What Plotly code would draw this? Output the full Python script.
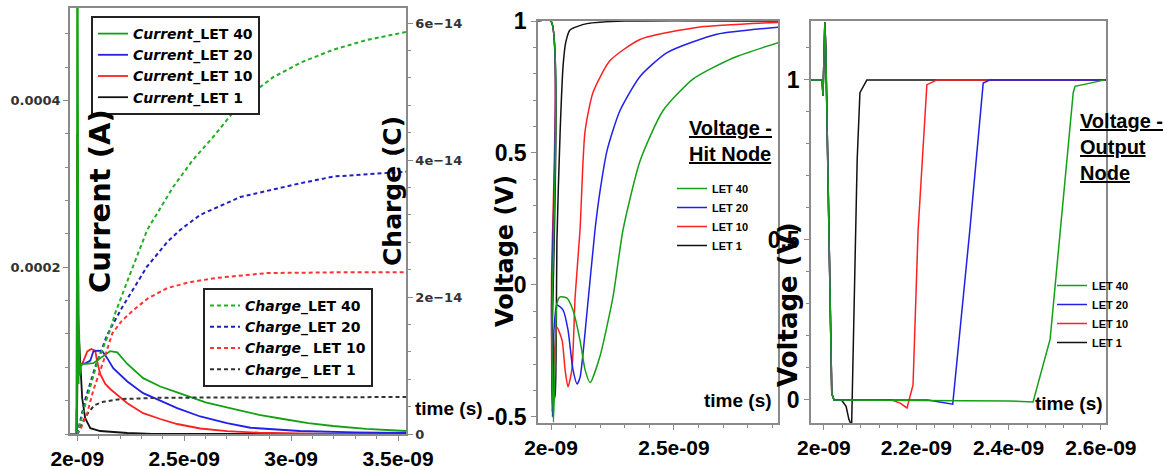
import numpy as np
import plotly.graph_objects as go

W, H = 1165, 470

# ---------------- Panel 1 data: time in ns, current in A, charge in 1e-14 C ----------------
cur_t_let1 = [1.966, 1.998, 2.0, 2.003, 2.007, 2.014, 2.023, 2.037, 2.061, 2.107, 2.234, 2.35, 3.54]
cur_let1 = [0, 0, 5e-5, 1.5e-4, 1.2e-4, 8.4e-5, 4.3e-5, 1.9e-5, 7e-6, 3.6e-6, 1.2e-6, 0, 0]

cur_t_let10 = [1.966, 1.997, 1.999, 2.001, 2.004, 2.008, 2.02, 2.047, 2.065, 2.084, 2.093, 2.107,
               2.131, 2.154, 2.234, 2.308, 2.388, 2.467, 2.575, 2.7, 2.85, 3.1, 3.54]
cur_let10 = [0, 0, 3.6e-4, 3.0e-4, 1.2e-4, 8.0e-5, 8.2e-5, 9.9e-5, 1.02e-4, 1.0e-4, 8.7e-5, 7.2e-5,
             6.0e-5, 5.4e-5, 3.7e-5, 2.5e-5, 1.8e-5, 1.2e-5, 6.6e-6, 3.5e-6, 1.5e-6, 5e-7, 0]

cur_t_let20 = [1.966, 1.997, 1.999, 2.001, 2.004, 2.008, 2.014, 2.04, 2.061, 2.075, 2.095, 2.117,
               2.14, 2.168, 2.234, 2.308, 2.388, 2.467, 2.575, 2.7, 2.81, 3.04, 3.3, 3.54]
cur_let20 = [0, 0, 2.8e-4, 2.5e-4, 1.1e-4, 8.0e-5, 8.4e-5, 8.5e-5, 8.8e-5, 9.9e-5, 1.0e-4, 9.94e-5,
             9.1e-5, 7.9e-5, 6.3e-5, 4.9e-5, 4.0e-5, 3.1e-5, 2.1e-5, 1.3e-5, 7.5e-6, 3.6e-6, 2e-6, 1.2e-6]

cur_t_let40 = [1.966, 1.994, 1.996, 1.998, 2.0, 2.003, 2.006, 2.009, 2.012, 2.016, 2.04, 2.075,
               2.107, 2.154, 2.187, 2.234, 2.308, 2.388, 2.467, 2.6, 2.729, 2.85, 2.963, 3.08,
               3.196, 3.35, 3.537]
cur_let40 = [0, 0, 3e-5, 0, 8e-4, 5e-4, 6e-5, 1.2e-4, 7e-5, 8.4e-5, 8.4e-5, 8.5e-5,
             9.1e-5, 9.94e-5, 9.8e-5, 8.4e-5, 6.7e-5, 5.7e-5, 5.0e-5, 3.8e-5, 3.0e-5, 2.3e-5, 1.8e-5, 1.3e-5,
             9.6e-6, 6.2e-6, 3.6e-6]

chg_t_let1 = [1.966, 2.0, 2.02, 2.051, 2.08, 2.121, 2.2, 2.4, 3.537]
chg_let1 = [0, 0, 0.15, 0.31, 0.42, 0.47, 0.51, 0.53, 0.54]

chg_t_let10 = [1.966, 2.0, 2.014, 2.047, 2.075, 2.12, 2.164, 2.21, 2.263, 2.33, 2.42, 2.53, 2.654,
               2.888, 3.2, 3.537]
chg_let10 = [0, 0, 0.06, 0.31, 0.64, 1.04, 1.47, 1.66, 1.81, 1.98, 2.13, 2.22, 2.28, 2.35, 2.36, 2.36]

chg_t_let20 = [1.966, 2.0, 2.037, 2.084, 2.14, 2.21, 2.325, 2.42, 2.481, 2.575, 2.762, 3.042, 3.2, 3.537]
chg_let20 = [0, 0, 0.5, 0.98, 1.45, 1.85, 2.44, 2.8, 2.98, 3.2, 3.46, 3.66, 3.76, 3.83]

chg_t_let40 = [1.966, 2.0, 2.047, 2.093, 2.154, 2.178, 2.24, 2.327, 2.449, 2.54, 2.636, 2.776, 2.916,
               3.05, 3.196, 3.35, 3.537]
chg_let40 = [0, 0, 0.54, 1.04, 1.52, 1.77, 2.28, 2.98, 3.61, 4.0, 4.34, 4.88, 5.21, 5.43, 5.61, 5.75, 5.87]

# ---------------- Panel 2 data: hit node voltage (V), time in ns ----------------
hit_t_let1 = [1.947, 1.9995, 2.003, 2.008, 2.016, 2.021, 2.024, 2.037, 2.049, 2.06, 2.077, 2.146, 2.3, 2.93]
hit_let1 = [1, 1, -0.3, -0.44, -0.42, -0.2, 0.17, 0.58, 0.83, 0.92, 0.966, 0.99, 1.0, 1.0]

hit_t_let10 = [1.947, 1.9995, 2.002, 2.004, 2.016, 2.024, 2.045, 2.057, 2.069, 2.085, 2.098, 2.118,
               2.138, 2.171, 2.24, 2.362, 2.606, 2.93]
hit_let10 = [1, 1, 0.0, -0.48, -0.23, -0.16, -0.21, -0.32, -0.386, -0.32, -0.045, 0.21,
             0.58, 0.73, 0.85, 0.93, 0.977, 0.995]

hit_t_let20 = [1.947, 1.9995, 2.002, 2.006, 2.012, 2.024, 2.049, 2.069, 2.089, 2.106, 2.118, 2.146,
               2.179, 2.2, 2.228, 2.28, 2.362, 2.472, 2.675, 2.93]
hit_let20 = [1, 1, -0.1, -0.5, -0.17, -0.076, -0.095, -0.17, -0.32, -0.375, -0.35, -0.106,
             0.21, 0.36, 0.51, 0.66, 0.79, 0.88, 0.95, 0.977]

hit_t_let40 = [1.947, 1.9995, 2.003, 2.01, 2.018, 2.024, 2.037, 2.065, 2.089, 2.118, 2.138, 2.159,
               2.199, 2.252, 2.293, 2.362, 2.455, 2.577, 2.74, 2.93]
hit_let40 = [1, 1, -0.2, -0.52, -0.25, -0.07, -0.045, -0.05, -0.095, -0.21, -0.32, -0.37,
             -0.27, -0.045, 0.21, 0.47, 0.66, 0.78, 0.86, 0.92]

# ---------------- Panel 3 data: output node voltage (V), time in ns ----------------
out_t_let1 = [1.972, 1.996, 1.998, 2.0, 2.002, 2.004, 2.0065, 2.012, 2.017, 2.022, 2.038, 2.048,
              2.054, 2.06, 2.069, 2.072, 2.078, 2.093, 2.611]
out_let1 = [1, 1, 0.95, 1.1, 1.18, 1.1, 0.9, 0.4, 0.02, 0, 0, -0.02, -0.06, -0.08, 0.5, 0.75, 0.96, 1.0, 1.0]

out_t_let10 = [1.972, 1.996, 1.998, 2.0, 2.002, 2.004, 2.0065, 2.012, 2.017, 2.022, 2.147, 2.165,
               2.18, 2.193, 2.204, 2.223, 2.245, 2.611]
out_let10 = [1, 1, 0.95, 1.1, 1.18, 1.1, 0.9, 0.4, 0.02, 0, 0, -0.01, -0.025, 0.047, 0.53, 0.985, 1.0, 1.0]

out_t_let20 = [1.972, 1.996, 1.998, 2.0, 2.002, 2.004, 2.0065, 2.012, 2.017, 2.022, 2.225, 2.279,
               2.316, 2.345, 2.36, 2.611]
out_let20 = [1, 1, 0.95, 1.1, 1.18, 1.1, 0.9, 0.4, 0.02, 0, 0, -0.013, 0.53, 0.99, 1.0, 1.0]

out_t_let40 = [1.972, 1.996, 1.998, 2.0, 2.002, 2.004, 2.0065, 2.012, 2.017, 2.022, 2.4, 2.453,
               2.49, 2.54, 2.544, 2.609]
out_let40 = [1, 1, 0.95, 1.1, 1.18, 1.1, 0.9, 0.4, 0.02, 0, -0.003, -0.006, 0.19, 0.96, 0.98, 1.0]

lets = ["1", "10", "20", "40"]
colors = {"1": "#111111", "10": "#ff2020", "20": "#2020e8", "40": "#14a014"}
dcolors = {"1": "#333333", "10": "#ff3333", "20": "#2020c0", "40": "#22b022"}
chg_names = {"1": "<i>Charge</i>_ LET 1", "10": "<i>Charge</i>_ LET 10",
             "20": "<i>Charge</i>_LET 20", "40": "<i>Charge</i>_LET 40"}

cur = {"1": (cur_t_let1, cur_let1), "10": (cur_t_let10, cur_let10),
       "20": (cur_t_let20, cur_let20), "40": (cur_t_let40, cur_let40)}
chg = {"1": (chg_t_let1, chg_let1), "10": (chg_t_let10, chg_let10),
       "20": (chg_t_let20, chg_let20), "40": (chg_t_let40, chg_let40)}
hit = {"1": (hit_t_let1, hit_let1), "10": (hit_t_let10, hit_let10),
       "20": (hit_t_let20, hit_let20), "40": (hit_t_let40, hit_let40)}
out = {"1": (out_t_let1, out_let1), "10": (out_t_let10, out_let10),
       "20": (out_t_let20, out_let20), "40": (out_t_let40, out_let40)}

NS = 1e-9
QU = 1e-14

fig = go.Figure()
for k in lets:
    t, v = cur[k]
    fig.add_trace(go.Scatter(x=np.array(t) * NS, y=v, mode="lines", name=f"<i>Current</i>_LET {k}",
                             line=dict(color=colors[k], width=1.8), xaxis="x", yaxis="y", legend="legend"))
for k in lets:
    t, v = chg[k]
    fig.add_trace(go.Scatter(x=np.array(t) * NS, y=np.array(v) * QU, mode="lines", name=chg_names[k],
                             line=dict(color=dcolors[k], width=2, dash="4px,3px"),
                             xaxis="x", yaxis="y2", legend="legend2"))
for k in lets:
    t, v = hit[k]
    fig.add_trace(go.Scatter(x=np.array(t) * NS, y=v, mode="lines", name=f"LET {k}",
                             line=dict(color=colors[k], width=1.5, shape="spline", smoothing=0.6),
                             xaxis="x2", yaxis="y3", legend="legend3"))
for k in lets:
    t, v = out[k]
    fig.add_trace(go.Scatter(x=np.array(t) * NS, y=v, mode="lines", name=f"LET {k}",
                             line=dict(color=colors[k], width=1.5),
                             xaxis="x3", yaxis="y4", legend="legend4"))

NARROW = "Liberation Sans, Arial, Helvetica, sans-serif"
WIDE = "DejaVu Sans, Verdana, sans-serif"
AX = "#8a8a8a"


def px(x):
    return x / W


def py(y):
    return 1 - y / H


def axis(domain, rng, tickvals, ticktext, minor_dtick, font, **kw):
    d = dict(domain=domain, range=rng, tickmode="array", tickvals=tickvals, ticktext=ticktext,
             automargin=False, tickangle=0,
             showgrid=False, zeroline=False, showline=True, linecolor=AX, linewidth=1.5,
             ticks="outside", ticklen=5, tickcolor=AX, tickwidth=1, tickfont=font,
             minor=dict(dtick=minor_dtick, tick0=0, ticks="outside", ticklen=3, tickcolor=AX, showgrid=False))
    d.update(kw)
    return d


bigx = dict(family=NARROW, size=21, color="#000", weight="bold")
bigy = dict(family=NARROW, size=23, color="#000", weight="bold")
small = dict(family=WIDE, size=13, color="#333", weight="bold")

p1x = [2.0e-9, 2.5e-9, 3.0e-9, 3.5e-9]
p1xt = ["2e-09", "2.5e-09", "3e-09", "3.5e-09"]
p1y = [0.0002, 0.0004]
p1yt = ["0.0002", "0.0004"]
p1y2 = [0, 2e-14, 4e-14, 6e-14]
p1y2t = ["0", "2e\u221214", "4e\u221214", "6e\u221214"]
p2x = [2.0e-9, 2.5e-9]
p2xt = ["2e-09", "2.5e-09"]
p2y = [-0.5, 0, 0.5, 1]
p2yt = ["-0.5", "0", "0.5", "1"]
p3x = [2.0e-9, 2.2e-9, 2.4e-9, 2.6e-9]
p3xt = ["2e-09", "2.2e-09", "2.4e-09", "2.6e-09"]
p3y = [0, 0.5, 1]
p3yt = ["0", "0.5", "1"]

fig.update_layout(
    width=W, height=H, autosize=False, margin=dict(l=0, r=0, t=0, b=0, pad=0),
    paper_bgcolor="white", plot_bgcolor="white", showlegend=True,
    xaxis=axis([px(70), px(406)], [1.966e-9, 3.537e-9], p1x, p1xt, 1e-10, bigx, anchor="y", mirror=True),
    yaxis=axis([py(434), py(8)], [0, 0.000511], p1y, p1yt, 0.00004, small, anchor="x", mirror=True),
    yaxis2=axis([py(434), py(8)], [0, 6.22e-14], p1y2, p1y2t, 0.4e-14, small, anchor="x",
                overlaying="y", side="right"),
    xaxis2=axis([px(538), px(778)], [1.947e-9, 2.923e-9], p2x, p2xt, 1e-10, bigx, anchor="y3", mirror=True),
    yaxis3=axis([py(423), py(21)], [-0.523, 1.0], p2y, p2yt, 0.1, bigy, anchor="x2", mirror=True),
    xaxis3=axis([px(811), px(1106)], [1.972e-9, 2.611e-9], p3x, p3xt, 0.04e-9, bigx, anchor="y4", mirror=True),
    yaxis4=axis([py(423), py(21)], [-0.072, 1.184], p3y, p3yt, 0.1, bigy, anchor="x3", mirror=True),
    legend=dict(x=px(91), y=py(16), xanchor="left", yanchor="top", traceorder="reversed",
                bgcolor="white", bordercolor="#222", borderwidth=2,
                font=dict(family=WIDE, size=14, color="#000", weight="bold")),
    legend2=dict(x=px(203), y=py(288), xanchor="left", yanchor="top", traceorder="reversed",
                 bgcolor="white", bordercolor="#222", borderwidth=2,
                 font=dict(family=WIDE, size=14, color="#000", weight="bold")),
    legend3=dict(x=px(672), y=py(174), xanchor="left", yanchor="top", traceorder="reversed",
                 bgcolor="rgba(0,0,0,0)", borderwidth=0,
                 font=dict(family=NARROW, size=11, color="#000", weight="bold")),
    legend4=dict(x=px(1052), y=py(271), xanchor="left", yanchor="top", traceorder="reversed",
                 bgcolor="rgba(0,0,0,0)", borderwidth=0,
                 font=dict(family=NARROW, size=11, color="#000", weight="bold")),
)


def ann(text, x, y, size, family, angle=0, xanchor="center", yanchor="middle", align="center"):
    fig.add_annotation(text=text, x=px(x), y=py(y), xref="paper", yref="paper", showarrow=False,
                       textangle=angle, xanchor=xanchor, yanchor=yanchor, align=align,
                       font=dict(family=family, size=size, color="#000", weight="bold"))


ann("Current (A)", 100, 201, 29, WIDE, angle=-90)
ann("Charge (C)", 392, 191, 25, WIDE, angle=-90)
ann("time (s)", 449, 408, 19, NARROW)
ann("Voltage (V)", 505, 251, 24, WIDE, angle=-90)
ann("<u>Voltage -</u><br><u>Hit Node</u>", 687, 141, 20, NARROW, xanchor="left", align="left")
ann("time (s)", 738, 400, 19, NARROW)
ann("Voltage (V)", 788, 305, 26, WIDE, angle=-90)
ann("<u>Voltage -</u><br><u>Output</u><br><u>Node</u>", 1078, 147, 20, NARROW, xanchor="left", align="left")
ann("time (s)", 1069, 403, 19, NARROW)

fig.write_html("out.html")
